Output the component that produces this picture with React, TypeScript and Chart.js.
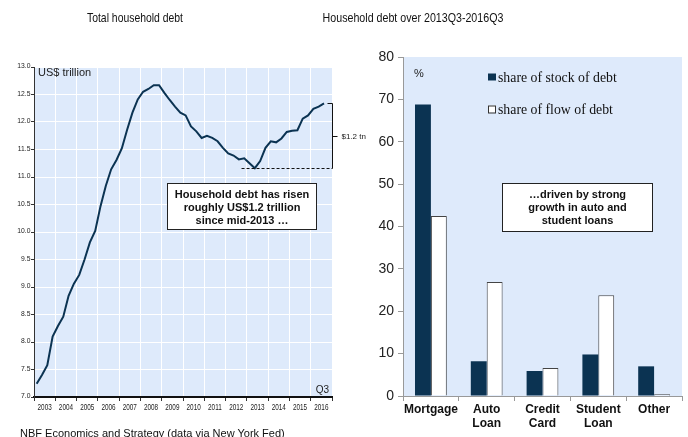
import React, { useEffect, useRef } from "react";
import { Chart, registerables } from "chart.js";

Chart.register(...registerables);

// ---------- data ----------
const quarters = [
  "2003Q1", "2003Q2", "2003Q3", "2003Q4",
  "2004Q1", "2004Q2", "2004Q3", "2004Q4",
  "2005Q1", "2005Q2", "2005Q3", "2005Q4",
  "2006Q1", "2006Q2", "2006Q3", "2006Q4",
  "2007Q1", "2007Q2", "2007Q3", "2007Q4",
  "2008Q1", "2008Q2", "2008Q3", "2008Q4",
  "2009Q1", "2009Q2", "2009Q3", "2009Q4",
  "2010Q1", "2010Q2", "2010Q3", "2010Q4",
  "2011Q1", "2011Q2", "2011Q3", "2011Q4",
  "2012Q1", "2012Q2", "2012Q3", "2012Q4",
  "2013Q1", "2013Q2", "2013Q3", "2013Q4",
  "2014Q1", "2014Q2", "2014Q3", "2014Q4",
  "2015Q1", "2015Q2", "2015Q3", "2015Q4",
  "2016Q1", "2016Q2", "2016Q3",
];
const debtTrillions = [
  7.24, 7.4, 7.58, 8.1,
  8.29, 8.46, 8.84, 9.06,
  9.22, 9.5, 9.81, 10.02,
  10.47, 10.84, 11.14, 11.31,
  11.52, 11.86, 12.17, 12.41,
  12.55, 12.6, 12.67, 12.67,
  12.53, 12.4, 12.28, 12.17,
  12.12, 11.92, 11.83, 11.71,
  11.75, 11.71, 11.65, 11.53,
  11.43, 11.39, 11.32, 11.34,
  11.25, 11.16, 11.29, 11.53,
  11.65, 11.63, 11.7, 11.82,
  11.84, 11.85, 12.06, 12.12,
  12.24, 12.28, 12.34,
];
const yearLabels = [
  "2003", "2004", "2005", "2006", "2007", "2008", "2009",
  "2010", "2011", "2012", "2013", "2014", "2015", "2016",
];
const debtTickLabels = [
  "7.0", "7.5", "8.0", "8.5", "9.0", "9.5", "10.0",
  "10.5", "11.0", "11.5", "12.0", "12.5", "13.0",
];

const debtCategories = [["Mortgage"], ["Auto", "Loan"], ["Credit", "Card"], ["Student", "Loan"], ["Other"]];
const stockShare = [68.8, 8.2, 5.9, 9.8, 7.0];
const flowShare = [42.5, 26.9, 6.6, 23.8, 0.4];
const seriesNames = ["share of stock of debt", "share of flow of debt"];

const leftNote = ["Household debt has risen", "roughly US$1.2 trillion", "since mid-2013 \u2026"];
const rightNote = ["\u2026driven by strong", "growth in auto and", "student loans"];

// ---------- styles ----------
const NAVY = "#0b3352";
const PLOT_BG = "#deeafb";
const SANS = "'Liberation Sans', Arial, sans-serif";
const SERIF = "'Liberation Serif', 'Times New Roman', serif";

const yearStart = Number(yearLabels[0]);
const yearEnd = Number(yearLabels[yearLabels.length - 1]) + 1;

const leftDecor = {
  id: "leftDecor",
  beforeDraw(chart: any) {
    const { ctx, chartArea: a } = chart;
    ctx.save();
    ctx.fillStyle = PLOT_BG;
    ctx.fillRect(a.left, a.top, a.right - a.left, a.bottom - a.top);
    ctx.restore();
  },
  afterDraw(chart: any) {
    const { ctx, chartArea: a, scales } = chart;
    const x = scales.x;
    const y = scales.y;
    ctx.save();

    // condensed axis labels
    ctx.fillStyle = "#222";
    ctx.textBaseline = "middle";
    ctx.font = `9.5px ${SANS}`;
    ctx.textAlign = "center";
    yearLabels.forEach((lab) => {
      const px = x.getPixelForValue(Number(lab) + 0.5);
      ctx.save();
      ctx.translate(px, a.bottom + 10);
      ctx.scale(0.67, 1);
      ctx.fillText(lab, 0, 0);
      ctx.restore();
    });
    ctx.font = `7.5px ${SANS}`;
    ctx.textAlign = "right";
    debtTickLabels.forEach((lab) => {
      const py = y.getPixelForValue(Number(lab));
      ctx.save();
      ctx.translate(a.left - 3.5, py - 1);
      ctx.scale(0.9, 1);
      ctx.fillText(lab, 0, 0);
      ctx.restore();
    });

    ctx.textAlign = "left";
    ctx.font = `11px ${SANS}`;
    ctx.fillText("US$ trillion", a.left + 4, a.top + 6);
    ctx.font = `10px ${SANS}`;
    ctx.textAlign = "right";
    ctx.fillText("Q3", a.right - 3, a.bottom - 7);

    // trough since 2012 and latest value
    const startIdx = quarters.indexOf("2012Q1");
    const tail = debtTrillions.slice(startIdx);
    const minV = Math.min(...tail);
    const lastV = debtTrillions[debtTrillions.length - 1];
    const yMin = Math.round(y.getPixelForValue(minV)) + 0.5;
    const yLast = Math.round(y.getPixelForValue(lastV)) + 0.5;
    const bx = Math.round(a.right) + 0.5;

    ctx.strokeStyle = "#111";
    ctx.lineWidth = 1;
    ctx.setLineDash([3, 2]);
    ctx.beginPath();
    ctx.moveTo(x.getPixelForValue(2012.75), yMin);
    ctx.lineTo(bx, yMin);
    ctx.stroke();
    ctx.setLineDash([]);
    ctx.beginPath();
    ctx.moveTo(bx - 5, yLast);
    ctx.lineTo(bx, yLast);
    ctx.lineTo(bx, yMin);
    ctx.stroke();
    const yMid = Math.round((yLast + yMin) / 2) + 0.5;
    ctx.beginPath();
    ctx.moveTo(bx, yMid);
    ctx.lineTo(bx + 5, yMid);
    ctx.stroke();
    ctx.font = `8px ${SANS}`;
    ctx.textAlign = "left";
    ctx.fillStyle = "#222";
    ctx.fillText("$1.2 tn", bx + 9, yMid);

    // note box
    const x1 = Math.round(x.getPixelForValue(2009.25)) + 0.5;
    const x2 = Math.round(x.getPixelForValue(2016.25)) + 0.5;
    const y1 = Math.round(y.getPixelForValue(10.9)) + 0.5;
    const y2 = Math.round(y.getPixelForValue(10.05)) + 0.5;
    ctx.fillStyle = "#fff";
    ctx.fillRect(x1, y1, x2 - x1, y2 - y1);
    ctx.strokeStyle = "#222";
    ctx.strokeRect(x1, y1, x2 - x1, y2 - y1);
    ctx.fillStyle = "#111";
    ctx.font = `bold 11px ${SANS}`;
    ctx.textAlign = "center";
    leftNote.forEach((t, i) => ctx.fillText(t, (x1 + x2) / 2, y1 + 11 + i * 13));
    ctx.restore();
  },
};

const rightDecor = {
  id: "rightDecor",
  beforeDraw(chart: any) {
    const { ctx, chartArea: a } = chart;
    ctx.save();
    ctx.fillStyle = PLOT_BG;
    ctx.fillRect(a.left, a.top, a.right - a.left, a.bottom - a.top);
    ctx.restore();
  },
  afterDraw(chart: any) {
    const { ctx, chartArea: a } = chart;
    ctx.save();
    ctx.textBaseline = "middle";
    ctx.textAlign = "left";
    ctx.fillStyle = "#222";
    ctx.font = `11px ${SANS}`;
    ctx.fillText("%", a.left + 11, a.top + 17);

    // legend
    const lx = a.left + 85;
    const rows = [a.top + 20, a.top + 52];
    chart.data.datasets.forEach((ds: any, i: number) => {
      const cy = rows[i];
      ctx.fillStyle = ds.backgroundColor;
      ctx.fillRect(lx, cy - 3.5, 8, 7);
      if (i === 1) {
        ctx.strokeStyle = "#333";
        ctx.lineWidth = 1;
        ctx.strokeRect(lx + 0.5, cy - 3, 7, 7);
      }
      ctx.fillStyle = "#111";
      ctx.font = `13.8px ${SERIF}`;
      ctx.fillText(ds.label, lx + 10, cy + 1);
    });

    // note box
    const x1 = Math.round(a.left + 99) + 0.5;
    const x2 = Math.round(a.left + 249) + 0.5;
    const y1 = Math.round(a.top + 126) + 0.5;
    const y2 = Math.round(a.top + 174) + 0.5;
    ctx.fillStyle = "#fff";
    ctx.fillRect(x1, y1, x2 - x1, y2 - y1);
    ctx.strokeStyle = "#222";
    ctx.lineWidth = 1;
    ctx.strokeRect(x1, y1, x2 - x1, y2 - y1);
    ctx.fillStyle = "#111";
    ctx.font = `bold 11px ${SANS}`;
    ctx.textAlign = "center";
    rightNote.forEach((t, i) => ctx.fillText(t, (x1 + x2) / 2, y1 + 11 + i * 13));
    ctx.restore();
  },
};

function LeftChart() {
  const ref = useRef<HTMLCanvasElement>(null);
  useEffect(() => {
    if (!ref.current) return;
    const points = quarters.map((q, i) => ({
      x: parseInt(q.slice(0, 4), 10) + (parseInt(q.slice(5), 10) - 0.5) / 4,
      y: debtTrillions[i],
    }));
    const chart = new Chart(ref.current, {
      type: "line",
      data: {
        datasets: [
          {
            data: points,
            borderColor: NAVY,
            borderWidth: 2,
            pointRadius: 0,
            tension: 0,
          },
        ],
      },
      options: {
        animation: false,
        responsive: false,
        maintainAspectRatio: false,
        layout: { padding: { left: 0, right: 38, top: 67, bottom: 0 } },
        plugins: { legend: { display: false }, tooltip: { enabled: false } },
        scales: {
          x: {
            type: "linear",
            min: yearStart,
            max: yearEnd,
            afterBuildTicks: (axis: any) => {
              axis.ticks = yearLabels.map((l) => ({ value: Number(l) })).concat([{ value: yearEnd }]);
            },
            ticks: { display: false },
            grid: { color: "#ffffff", tickColor: "#333", tickLength: 4, lineWidth: 1 },
            border: { color: "#111", width: 2 },
            afterFit: (axis: any) => {
              axis.height = 40;
            },
          },
          y: {
            min: 7,
            max: 13,
            afterBuildTicks: (axis: any) => {
              axis.ticks = debtTickLabels.map((l) => ({ value: Number(l) }));
            },
            ticks: { display: false },
            grid: { color: "#ffffff", tickColor: "#333", tickLength: 3, lineWidth: 1 },
            border: { color: "#333", width: 1 },
            afterFit: (axis: any) => {
              axis.width = 34;
            },
          },
        },
      },
      plugins: [leftDecor],
    });
    return () => chart.destroy();
  }, []);
  return (
    <canvas
      ref={ref}
      width={370}
      height={437}
      style={{ position: "absolute", left: 0, top: 0, width: 370, height: 437 }}
    />
  );
}

function RightChart() {
  const ref = useRef<HTMLCanvasElement>(null);
  useEffect(() => {
    if (!ref.current) return;
    const chart = new Chart(ref.current, {
      type: "bar",
      data: {
        labels: debtCategories,
        datasets: [
          {
            label: seriesNames[0],
            data: stockShare,
            backgroundColor: NAVY,
            borderColor: NAVY,
            borderWidth: 0,
          },
          {
            label: seriesNames[1],
            data: flowShare,
            backgroundColor: "#ffffff",
            borderColor: "#444",
            borderWidth: 1,
          },
        ],
      },
      options: {
        animation: false,
        responsive: false,
        maintainAspectRatio: false,
        layout: { padding: { left: 0, right: 6, top: 57, bottom: 0 } },
        datasets: { bar: { barPercentage: 1, categoryPercentage: 0.57 } },
        plugins: { legend: { display: false }, tooltip: { enabled: false } },
        scales: {
          x: {
            grid: { offset: true, drawOnChartArea: false, tickLength: 5, color: "#999" },
            border: { color: "#999", width: 1 },
            ticks: {
              color: "#111",
              padding: 2,
              autoSkip: false,
              maxRotation: 0,
              minRotation: 0,
              font: { family: SANS, size: 12, weight: "bold", lineHeight: 1.17 },
            },
            afterFit: (axis: any) => {
              axis.height = 41;
            },
          },
          y: {
            min: 0,
            max: 80,
            ticks: { stepSize: 10, color: "#222", padding: 4, font: { family: SANS, size: 14 } },
            grid: { drawOnChartArea: false, tickLength: 5, color: "#999" },
            border: { color: "#999", width: 1 },
            afterFit: (axis: any) => {
              axis.width = 58;
            },
          },
        },
      },
      plugins: [rightDecor],
    });
    return () => chart.destroy();
  }, []);
  return (
    <canvas
      ref={ref}
      width={343}
      height={437}
      style={{ position: "absolute", left: 345, top: 0, width: 343, height: 437 }}
    />
  );
}

export default function App() {
  const textStyle: React.CSSProperties = {
    position: "absolute",
    fontFamily: SANS,
    fontSize: 13,
    lineHeight: "15px",
    color: "#111",
    whiteSpace: "nowrap",
  };
  return (
    <div
      style={{
        position: "absolute",
        left: 0,
        top: 0,
        width: 688,
        height: 437,
        overflow: "hidden",
        background: "#fff",
      }}
    >
      <RightChart />
      <LeftChart />
      <div
        style={{
          ...textStyle,
          left: 0,
          top: 10,
          width: 270,
          textAlign: "center",
          transform: "scaleX(0.8)",
        }}
      >
        Total household debt
      </div>
      <div
        style={{
          ...textStyle,
          left: 293,
          top: 10,
          width: 240,
          textAlign: "center",
          transform: "scaleX(0.82)",
        }}
      >
        Household debt over 2013Q3-2016Q3
      </div>
      <div style={{ ...textStyle, left: 20, top: 426, fontSize: 11, lineHeight: "14px" }}>
        NBF Economics and Strategy (data via New York Fed)
      </div>
    </div>
  );
}
